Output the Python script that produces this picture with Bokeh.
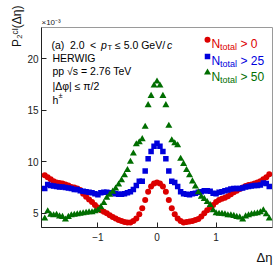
from bokeh.plotting import figure
from bokeh.models import Label, FixedTicker, Range1d, ColumnDataSource, Title
from bokeh.embed import file_html
from bokeh.resources import INLINE

# ---------------- data (values x 10^-3) ----------------
deta = [round(-1.9 + 0.05 * i, 2) for i in range(77)]   # bin centres

p2_n0 = [8.7, 8.5, 8.3, 8.1, 8.0, 7.95, 7.9, 7.8, 7.7, 7.55, 7.5, 7.4, 7.25, 6.9, 6.6, 6.35, 6.1, 5.8, 5.55,
         5.3, 5.15, 5.0, 4.8, 4.65, 4.5, 4.35, 4.25, 4.15, 4.1, 4.1, 4.25, 4.5, 4.9, 5.5, 6.3, 7.1, 7.6, 7.9, 8.0,
         7.9, 7.6, 7.1, 6.3, 5.5, 4.9, 4.5, 4.25, 4.1, 4.15, 4.2, 4.25, 4.35, 4.45, 4.7, 5.0, 5.3, 5.55, 5.8, 6.1,
         6.3, 6.4, 6.5, 6.65, 6.85, 7.05, 7.2, 7.35, 7.5, 7.65, 7.75, 7.8, 7.9, 8.0, 8.1, 8.3, 8.5, 8.8]

p2_n25 = [7.4, 7.8, 7.7, 7.65, 7.6, 7.55, 7.55, 7.5, 7.45, 7.4, 7.3, 7.3, 7.2, 7.15, 7.1, 7.05, 7.0, 6.9, 6.8,
          7.0, 7.05, 7.05, 7.0, 7.0, 6.9, 6.85, 6.85, 6.9, 7.0, 7.1, 7.3, 7.7, 8.1, 8.1, 9.1, 10.3, 11.0, 11.5, 11.8,
          11.5, 11.0, 10.3, 9.1, 8.1, 8.0, 7.6, 7.1, 6.9, 6.85, 6.8, 6.9, 6.95, 7.05, 7.1, 7.2, 7.2, 7.15, 6.95, 6.9,
          7.05, 7.1, 7.2, 7.25, 7.35, 7.4, 7.4, 7.4, 7.45, 7.55, 7.6, 7.65, 7.7, 7.7, 7.75, 7.95, 7.9, 7.6]

p2_n50 = [4.5, 5.2, 4.85, 4.8, 4.85, 4.7, 4.65, 4.4, 4.65, 4.8, 4.85, 4.9, 4.95, 5.0, 5.05, 5.1, 5.1, 5.2, 5.3,
          5.6, 6.0, 6.5, 6.8, 7.1, 7.4, 7.8, 8.2, 8.7, 9.2, 10.0, 10.8, 11.7, 11.9, 12.2, 13.4, 15.5, 16.4, 17.4, 17.8,
          17.4, 16.4, 15.5, 13.5, 12.1, 11.8, 11.6, 10.3, 9.8, 9.2, 8.7, 8.1, 7.6, 7.05, 6.6, 6.4, 6.1, 5.8, 5.3, 5.0,
          4.95, 4.95, 4.9, 4.8, 4.8, 4.75, 4.65, 4.6, 4.4, 4.7, 4.8, 4.9, 4.95, 5.0, 5.1, 5.3, 4.9, 4.5]

x_ticks = [-1, 0, 1]
x_tick_labels = ["\u22121", "0", "1"]
y_ticks = [5, 10, 15, 20]
y_tick_labels = ["5", "10", "15", "20"]

series_labels = ["> 0", "> 25", "> 50"]
colors = ["#dc0000", "#0000dc", "#006e00"]
markers = ["circle", "square", "triangle"]
sizes = [6, 5.5, 7]

# ---------------- figure ----------------
X0, X1 = -1.955, 1.955
Y0, Y1 = 3.62, 23.04
W, H = 276, 268
FL, FR, FT, FB = 41, 4, 27, 41   # borders around the frame (figure px)

p = figure(width=W, height=H, x_range=Range1d(X0, X1), y_range=Range1d(Y0, Y1),
           output_backend="svg", toolbar_location=None,
           min_border_left=FL, min_border_right=FR, min_border_top=FT, min_border_bottom=FB)
p.background_fill_color = "white"
p.border_fill_color = "white"
p.xgrid.visible = False
p.ygrid.visible = False
p.outline_line_color = "#9a9a9a"

FONT = "Liberation Sans"
for ax in (p.xaxis[0], p.yaxis[0]):
    ax.axis_line_color = "#222222"
    ax.major_tick_line_color = "#222222"
    ax.major_tick_in = 5
    ax.major_tick_out = 0
    ax.minor_tick_line_color = None
    ax.major_label_text_font = FONT
    ax.major_label_text_font_size = "10px"
    ax.major_label_text_color = "#222222"

p.xaxis[0].ticker = FixedTicker(ticks=x_ticks)
p.xaxis[0].major_label_overrides = {t: s for t, s in zip(x_ticks, x_tick_labels)}
p.xaxis[0].major_label_standoff = 5
p.yaxis[0].ticker = FixedTicker(ticks=y_ticks)
p.yaxis[0].major_label_overrides = {t: s for t, s in zip(y_ticks, y_tick_labels)}
p.yaxis[0].major_label_standoff = 3

# ---------------- data markers ----------------
for vals, c, m, s in zip([p2_n0, p2_n25, p2_n50], colors, markers, sizes):
    src = ColumnDataSource(dict(x=deta, y=vals))
    p.scatter("x", "y", source=src, marker=m, size=s, fill_color=c, line_color=None)

# ---------------- texts outside the frame (side panels) ----------------
p.add_layout(Title(text="\u00d710\u207b\u00b3", align="left", text_font=FONT, text_font_size="8px",
                   text_font_style="normal", text_color="#222222", standoff=1), "above")
p.add_layout(Title(text="P\u2082\u1d9c\u1d35(\u0394\u03b7)", align="right", offset=-22, text_font=FONT,
                   text_font_size="12px", text_font_style="normal", text_color="#111111", standoff=2), "left")
p.add_layout(Title(text="\u0394\u03b7", align="right", text_font=FONT, text_font_size="13px",
                   text_font_style="normal", text_color="#111111", standoff=8), "below")

# ---------------- helpers for layout inside the frame ----------------
ABS_L, ABS_B = FL, H - FB       # frame left / bottom in page px
FRAME_W = W - FL - FR
FRAME_H = H - FT - FB


def lab(text, xa, ya, size, color="black", style="normal", align="left"):
    p.add_layout(Label(x=xa - ABS_L, y=ABS_B - ya, x_units="screen", y_units="screen",
                       text=text, text_font=FONT, text_font_size=f"{size}px",
                       text_color=color, text_font_style=style, text_align=align,
                       text_baseline="alphabetic"))


def px2x(xa):
    return X0 + (xa - ABS_L) / FRAME_W * (X1 - X0)


def px2y(ya):
    return Y0 + (ABS_B - ya) / FRAME_H * (Y1 - Y0)


# annotation block
lab("(a)", 51, 44, 10.5)
lab("2.0", 69.5, 44, 10.5)
lab("<", 89.5, 44, 10.5)
lab("p", 100.5, 44, 10.5, style="italic")
lab("T", 107, 46.5, 7.5)
lab("\u2264 5.0 GeV/", 114.5, 44, 10.5)
lab("c", 166.5, 44, 10.5, style="italic")
lab("HERWIG", 52, 57.7, 10.5)
lab("pp \u221as = 2.76 TeV", 52, 70.7, 10.5)
lab("|\u0394\u03c6| \u2264 \u03c0/2", 52, 85, 10.5)
lab("h", 52, 99.3, 10.5)
lab("\u00b1", 58, 95, 7.5)

# legend
leg_rows = [39.3, 56, 72]
for yrow, c, m, s, txt in zip(leg_rows, colors, markers, sizes, series_labels):
    lsrc = ColumnDataSource(dict(x=[px2x(207)], y=[px2y(yrow)]))
    p.scatter("x", "y", source=lsrc, marker=m, size=s, fill_color=c, line_color=None)
    lab("N", 211, yrow + 4.5, 12, color=c)
    lab("total", 219.5, yrow + 7.5, 9, color=c)
    lab(txt, 240, yrow + 4.5, 12, color=c)

open("out.html", "w").write(file_html(p, INLINE))
